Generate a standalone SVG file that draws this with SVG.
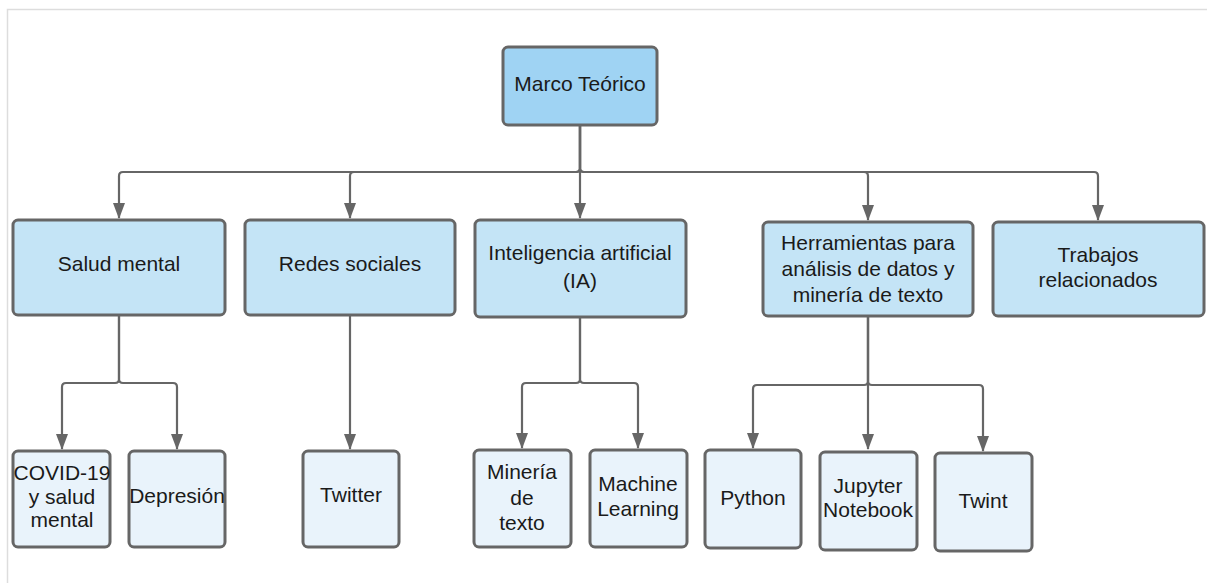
<svg xmlns="http://www.w3.org/2000/svg" width="1207" height="583" viewBox="0 0 1207 583">
<defs>
<style>
.box{stroke:#666;stroke-width:3}
.root{fill:#9fd3f3}
.l2{fill:#c4e4f6}
.l3{fill:#e9f3fb}
.t{font-family:"Liberation Sans",Arial,sans-serif;font-size:21px;fill:#1a1a1a;text-anchor:middle}
.c{fill:none;stroke:#666;stroke-width:2.2;marker-end:url(#ah)}
</style>
<marker id="ah" viewBox="0 0 16 12" refX="15" refY="6" markerWidth="16" markerHeight="12" markerUnits="userSpaceOnUse" orient="auto">
<path d="M0,0 L16,6 L0,12 Z" fill="#666"/>
</marker>
</defs>
<rect x="0" y="0" width="1207" height="583" fill="#fff"/>
<path d="M7.5,583 V9.5 H1207" fill="none" stroke="#ddd" stroke-width="1.5"/>
<g id="connectors">
<path class="c" d="M580,126 V168 Q580,172 576,172 H123 Q119,172 119,176 V218"/>
<path class="c" d="M580,126 V168 Q580,172 576,172 H354 Q350,172 350,176 V218"/>
<path class="c" d="M580,126 V218"/>
<path class="c" d="M580,126 V168 Q580,172 584,172 H864 Q868,172 868,176 V220"/>
<path class="c" d="M580,126 V168 Q580,172 584,172 H1094 Q1098,172 1098,176 V220"/>
<path class="c" d="M119,315 V379 Q119,383 115,383 H66 Q62,383 62,387 V449"/>
<path class="c" d="M119,315 V379 Q119,383 123,383 H173 Q177,383 177,387 V449"/>
<path class="c" d="M350,315 V449"/>
<path class="c" d="M580,317 V379 Q580,383 576,383 H526 Q522,383 522,387 V448"/>
<path class="c" d="M580,317 V379 Q580,383 584,383 H634 Q638,383 638,387 V448"/>
<path class="c" d="M868,316 V381 Q868,385 864,385 H757 Q753,385 753,389 V448"/>
<path class="c" d="M868,316 V449"/>
<path class="c" d="M868,316 V381 Q868,385 872,385 H979 Q983,385 983,389 V451"/>
</g>
<g id="n-marco"><rect class="box root" x="503" y="47" width="154" height="78" rx="5"/><text class="t" x="580" y="91">Marco Teórico</text></g>
<g id="n-salud"><rect class="box l2" x="13" y="220" width="212" height="95" rx="5"/><text class="t" x="119" y="271">Salud mental</text></g>
<g id="n-redes"><rect class="box l2" x="245" y="220" width="210" height="95" rx="5"/><text class="t" x="350" y="271">Redes sociales</text></g>
<g id="n-ia"><rect class="box l2" x="475" y="220" width="211" height="97" rx="5"/><text class="t" x="580" y="260">Inteligencia artificial</text><text class="t" x="580" y="288">(IA)</text></g>
<g id="n-herr"><rect class="box l2" x="763" y="222" width="210" height="94" rx="5"/><text class="t" x="868" y="250">Herramientas para</text><text class="t" x="868" y="276">análisis de datos y</text><text class="t" x="868" y="302">minería de texto</text></g>
<g id="n-trab"><rect class="box l2" x="993" y="222" width="211" height="94" rx="5"/><text class="t" x="1098" y="262">Trabajos</text><text class="t" x="1098" y="287">relacionados</text></g>
<g id="n-covid"><rect class="box l3" x="13" y="451" width="97" height="96" rx="5"/><text class="t" x="62" y="480">COVID-19</text><text class="t" x="62" y="504">y salud</text><text class="t" x="62" y="527">mental</text></g>
<g id="n-dep"><rect class="box l3" x="129" y="451" width="96" height="96" rx="5"/><text class="t" x="177" y="503">Depresión</text></g>
<g id="n-twitter"><rect class="box l3" x="303" y="451" width="96" height="96" rx="5"/><text class="t" x="351" y="502">Twitter</text></g>
<g id="n-mineria"><rect class="box l3" x="474" y="450" width="97" height="97" rx="5"/><text class="t" x="522" y="479">Minería</text><text class="t" x="522" y="505">de</text><text class="t" x="522" y="530">texto</text></g>
<g id="n-ml"><rect class="box l3" x="590" y="450" width="97" height="97" rx="5"/><text class="t" x="638" y="491">Machine</text><text class="t" x="638" y="516">Learning</text></g>
<g id="n-python"><rect class="box l3" x="705" y="450" width="96" height="98" rx="5"/><text class="t" x="753" y="505">Python</text></g>
<g id="n-jupyter"><rect class="box l3" x="820" y="452" width="97" height="98" rx="5"/><text class="t" x="868" y="493">Jupyter</text><text class="t" x="868" y="517">Notebook</text></g>
<g id="n-twint"><rect class="box l3" x="935" y="453" width="97" height="98" rx="5"/><text class="t" x="983" y="508">Twint</text></g>
</svg>
